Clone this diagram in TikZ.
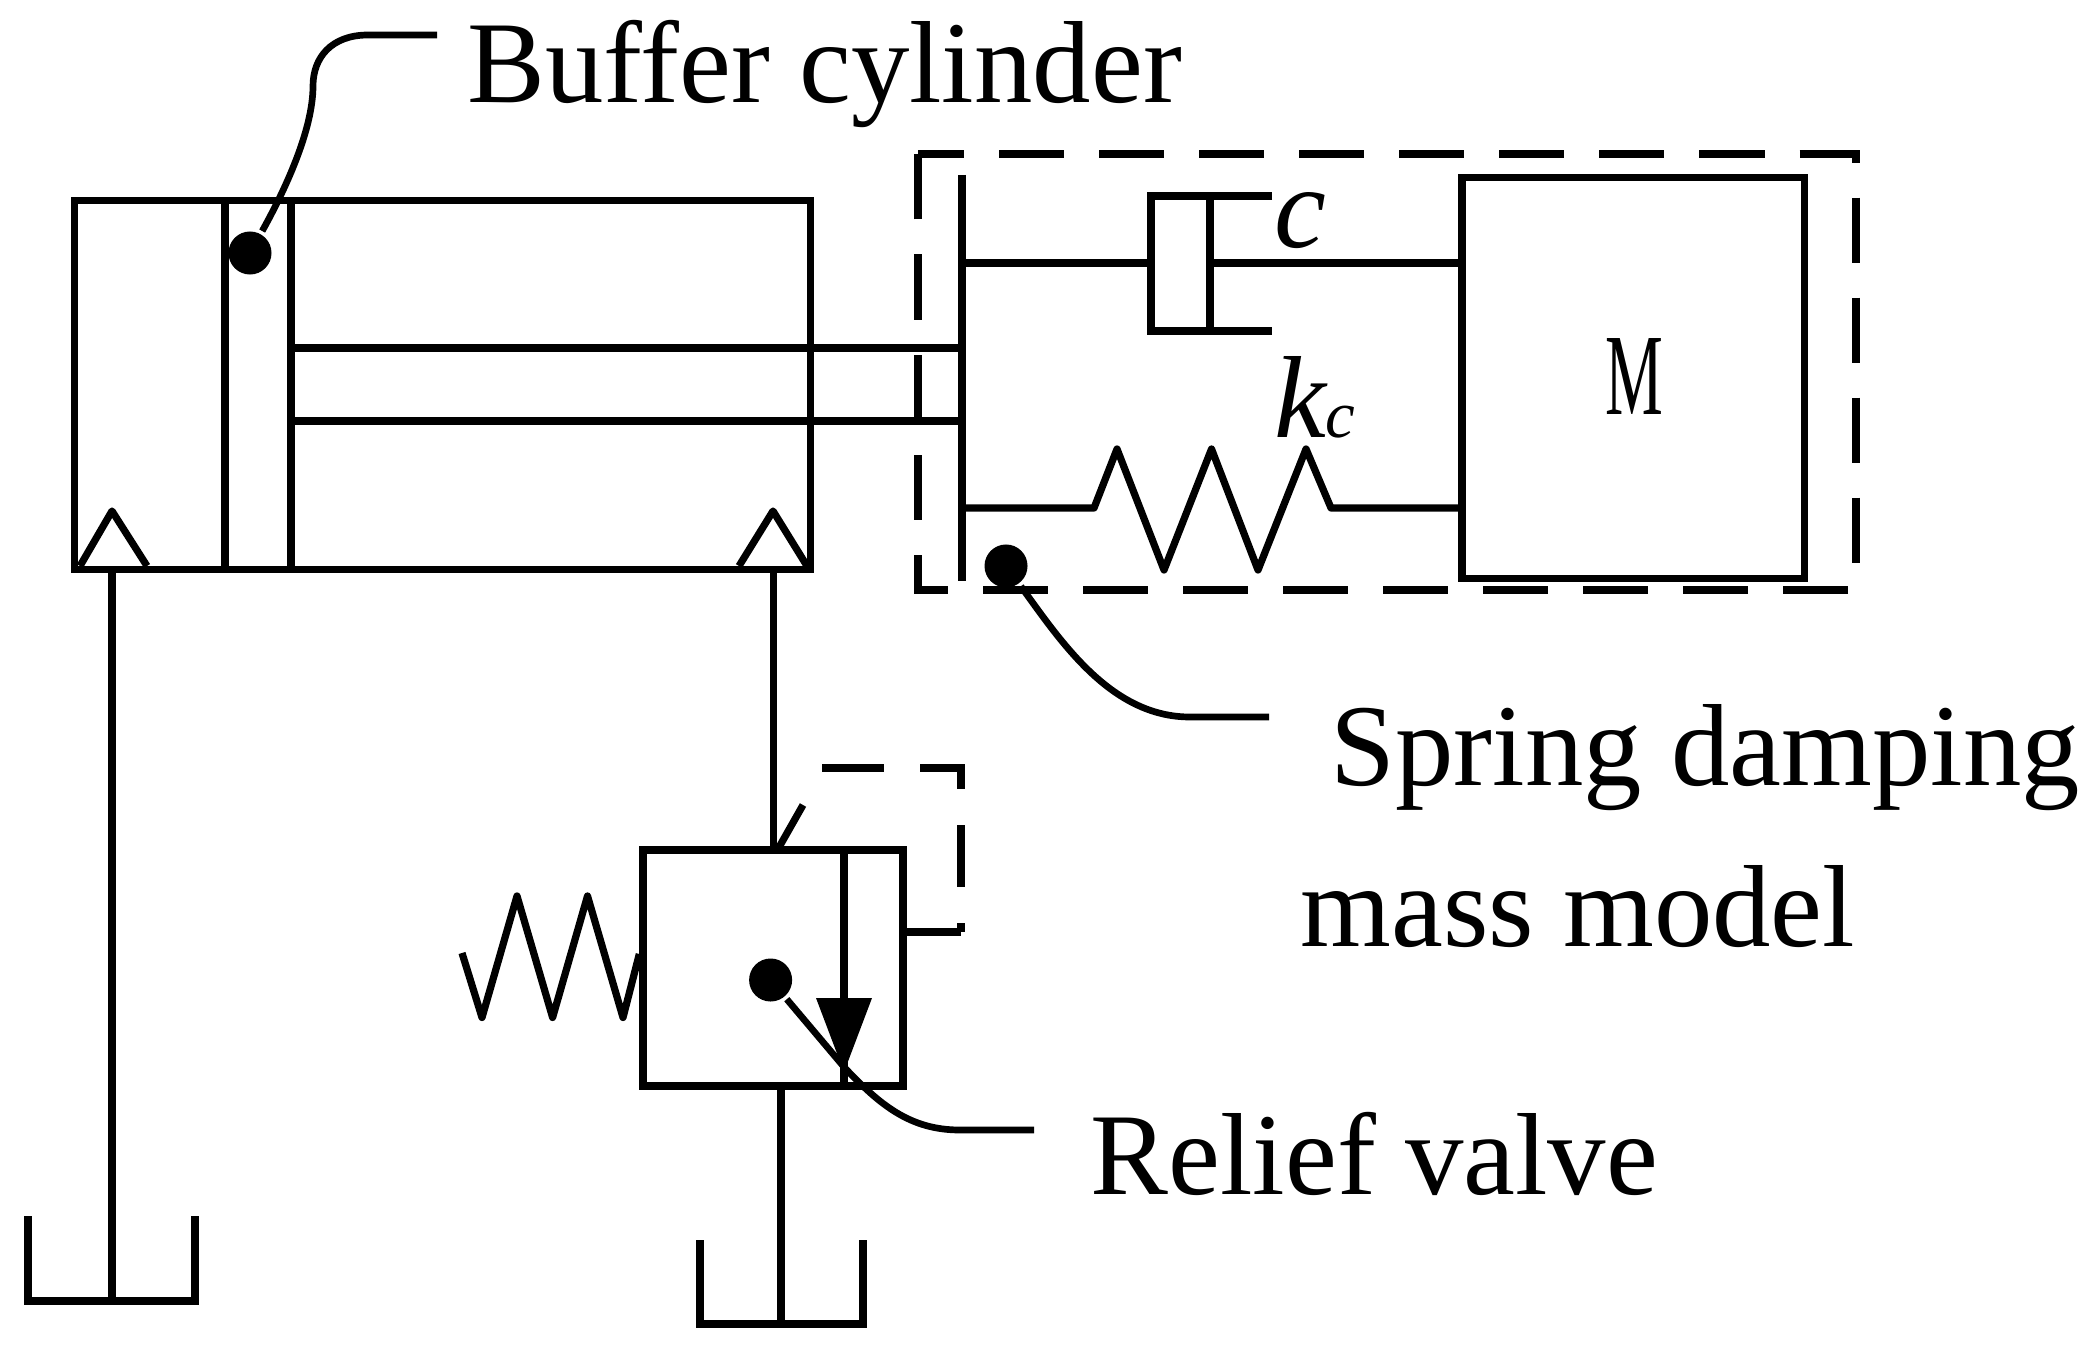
\documentclass[tikz,border=0pt]{standalone}
\usepackage{fontspec}
\setmainfont{Liberation Serif}
\usetikzlibrary{calc,positioning}

\begin{document}
\begin{tikzpicture}[x=0.01cm,y=-0.01cm,line width=2.05pt,line join=miter,
    box/.style={draw, rectangle, inner sep=0pt},
    dotmark/.style={circle, fill=black, inner sep=0pt, minimum size=0.43cm},
    leader/.style={line width=1.9pt},
    springline/.style={line join=round},
    label/.style={inner sep=0pt, anchor=base west, font=\fontsize{33.2pt}{36pt}\selectfont}]
    \useasboundingbox (0,0) rectangle (2089,1352);

    % buffer cylinder
    \node[box, minimum width=7.35cm, minimum height=3.68cm] (cyl) at (442.5,385) {};
    \coordinate (pistonA) at (225,201);
    \coordinate (pistonB) at (291,201);
    \draw (pistonA) -- (pistonA |- cyl.south);
    \draw (pistonB) -- (pistonB |- cyl.south);
    \coordinate (plateT) at (962,175);
    \coordinate (plateB) at (962,581);
    \draw (plateT) -- (plateB);
    \coordinate (rodA) at (291,348);
    \coordinate (rodB) at (291,421);
    \draw (rodA) -- (rodA -| plateT);
    \draw (rodB) -- (rodB -| plateT);
    \foreach \l/\t/\r in {80/112/147, 739/773/807}
      \draw[springline] (\l,566) -- (\t,511) -- (\r,566);

    % tank lines
    \coordinate (pipeA) at (112,569);
    \coordinate (pipeB) at (773.5,569);
    \coordinate (tankA) at (112,1301);
    \draw (pipeA) -- (tankA);
    \draw (28,1216) |- (195,1301) -- (195,1216);

    % spring damping mass model
    \draw[dash pattern=on 0.65cm off 0.35cm, dash phase=0.19cm]
      (918,154) -- (1856,154) -- (1856,590) -- (918,590) -- cycle;
    \node[box, minimum width=3.42cm, minimum height=4cm] (mass) at (1633,378) {};
    \node[inner sep=0pt] (massname) at (1634,377) {\fontsize{33pt}{36pt}\selectfont\scalebox{0.56}[1]{M}};
    \coordinate (damperL) at (1151,263);
    \coordinate (damperR) at (1210,263);
    \draw (damperL -| plateT) -- (damperL);
    \draw (damperR) -- (damperR -| mass.west);
    \draw (1272,196) -- (1151,196) -- (1151,331) -- (1272,331);
    \draw (1210,196) -- (1210,331);
    \coordinate (springL) at (1094,508);
    \coordinate (springR) at (1331,508);
    \draw[springline] (springL -| plateT) -- (springL) -- (1117,449) -- (1164,570) -- (1211.5,449)
      -- (1258,570) -- (1306,449) -- (springR) -- (springR -| mass.west);
    \node[label] (cname) at (1271,248) {\textit{c}};
    \node[label] (kname) at (1271,437) {\textit{k}\kern-0.03cm{\fontsize{19pt}{20pt}\selectfont\textit{c}}};

    % relief valve
    \node[box, minimum width=2.6cm, minimum height=2.36cm] (valve) at (773,968) {};
    \draw (pipeB) -- (pipeB |- valve.north);
    \coordinate (flowT) at (844,850);
    \draw (flowT) -- (flowT |- valve.south);
    \fill (816,998) -- (872,998) -- (844,1072) -- cycle;
    \coordinate (pilotA) at (778,849);
    \coordinate (pilotB) at (961,932);
    \coordinate (pilotC) at (803,805);
    \draw (pilotA) -- (pilotC);
    \draw[dash pattern=on 0.62cm off 0.36cm] (822,768) -- (961,768) -- (pilotB);
    \draw (pilotB -| valve.east) -- (pilotB);
    \draw[springline] (valve.west |- 0,954) -- (623,1017.5) -- (587.5,896) -- (552.6,1017.5)
      -- (517,896) -- (482,1017.5) -- (462,953);
    \coordinate (pipeC) at (781,1086);
    \coordinate (tankB) at (781,1324);
    \draw (pipeC) -- (tankB);
    \draw (700,1240) |- (863,1324) -- (863,1240);

    % labels with their leaders
    \node[dotmark] (dotcyl) at (250,253) {};
    \node[dotmark] (dotmodel) at (1006,566) {};
    \node[dotmark] (dotvalve) at (770.6,980) {};
    \coordinate (endcyl) at (437,35);
    \coordinate (endmodel) at (1269,717);
    \coordinate (endvalve) at (1034,1130);
    \draw[leader] (dotcyl) .. controls (285,190) and (313,130) .. (313,86)
      .. controls (313,58) and (331,35) .. (368,35) -- (endcyl);
    \draw[leader] (dotmodel) .. controls (1060,640) and (1110,717) .. (1190,717) -- (endmodel);
    \draw[leader] (dotvalve) -- (844,1067) .. controls (880,1105) and (910,1130) .. (960,1130) -- (endvalve);
    \node[label] (namecyl) at (464,103) {Buffer cylinder};
    \node[label] (namemodel) at (1327,785) {Spring damping};
    \node[label] (namemass) at (1297,946) {mass model};
    \node[label] (namevalve) at (1087,1194) {Relief valve};
\end{tikzpicture}
\end{document}
